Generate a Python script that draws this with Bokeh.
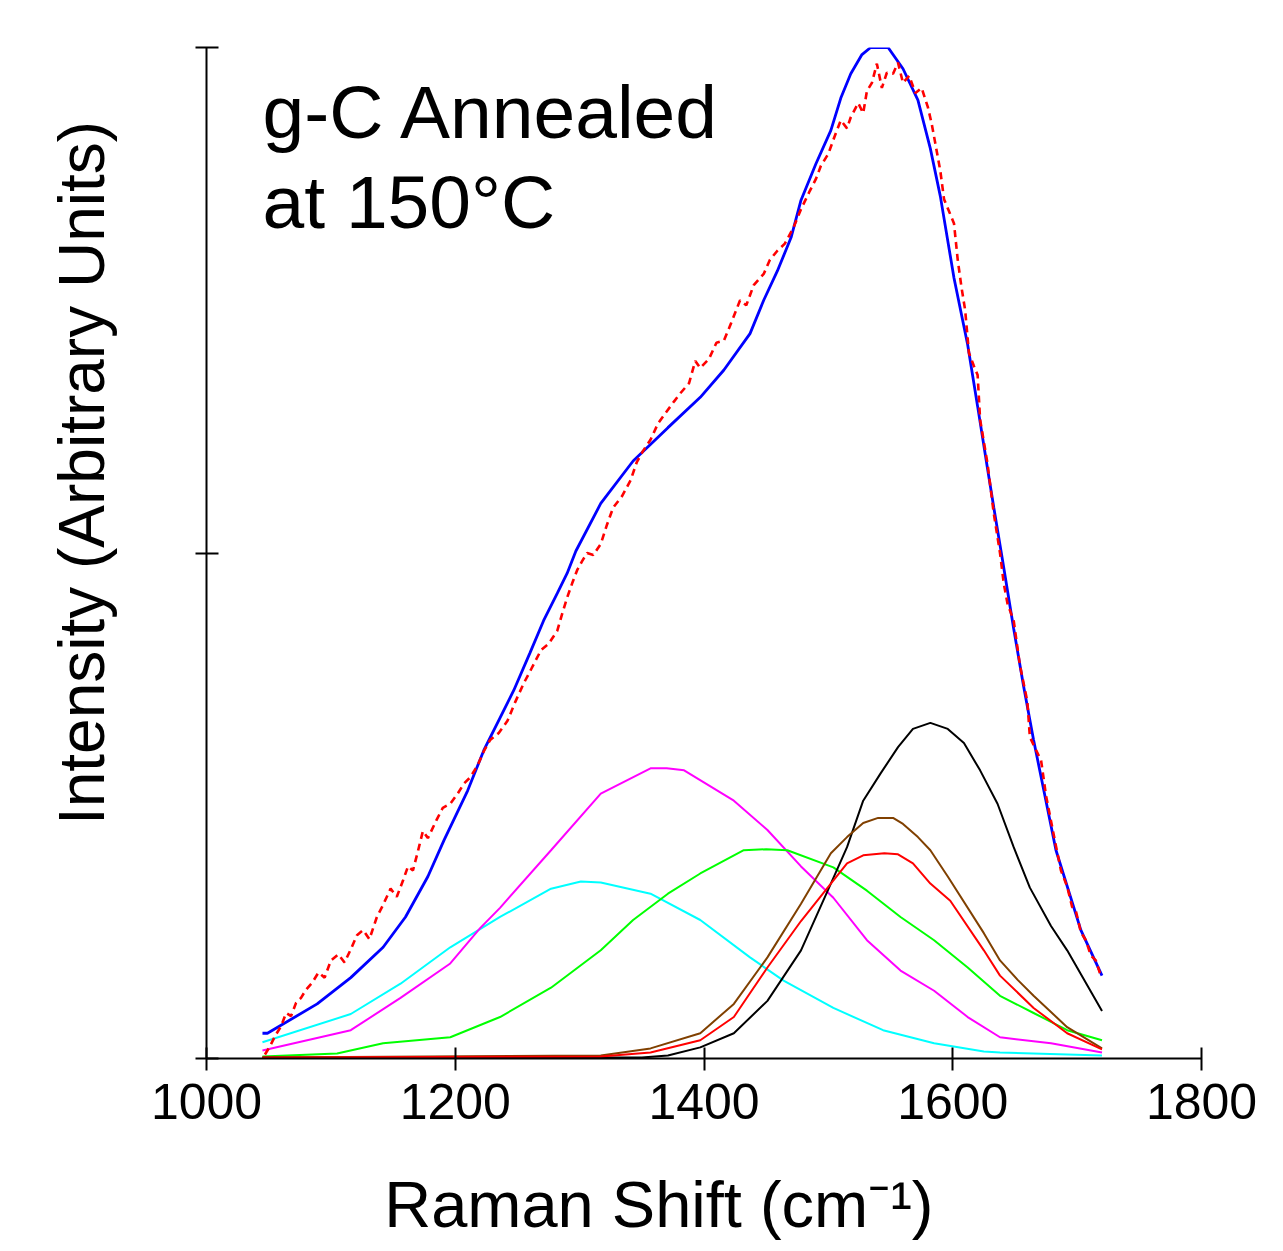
import math
from bokeh.plotting import figure
from bokeh.models import Label, FixedTicker, Range1d
from bokeh.embed import file_html
from bokeh.resources import INLINE

FONT = "Liberation Sans"

# ---------------- data ----------------
x_ticks = [1000, 1200, 1400, 1600, 1800]
y_ticks = [0, 500, 1000]

cyan_x = [1045, 1116, 1156, 1196, 1236, 1277, 1301, 1317, 1357, 1397, 1437, 1464, 1504, 1544, 1585, 1625, 1638, 1720]
cyan_y = [16, 44, 74, 110, 140, 168, 175, 174, 163, 137, 100, 77, 50, 28, 15, 7, 6, 3]

magenta_x = [1045, 1116, 1156, 1196, 1220, 1236, 1277, 1317, 1357, 1370, 1384, 1424, 1451, 1478, 1504, 1531, 1558, 1585, 1612, 1638, 1679, 1720]
magenta_y = [8, 28, 60, 94, 129, 149, 206, 262, 287, 287, 285, 255, 226, 190, 159, 117, 87, 67, 41, 21, 15, 6]

green_x = [1045, 1105, 1142, 1196, 1236, 1277, 1317, 1343, 1371, 1397, 1432, 1450, 1467, 1504, 1531, 1558, 1585, 1612, 1638, 1665, 1692, 1720]
green_y = [2, 5, 15, 21, 41, 70, 107, 137, 163, 183, 206, 207, 206, 189, 166, 140, 117, 90, 62, 45, 28, 18]

brown_x = [1045, 1317, 1357, 1397, 1424, 1451, 1478, 1502, 1515, 1528, 1540, 1552, 1560, 1572, 1582, 1596, 1625, 1638, 1652, 1665, 1692, 1720]
brown_y = [1, 3, 10, 25, 54, 100, 153, 203, 219, 233, 238, 238, 232, 219, 206, 180, 124, 97, 78, 62, 31, 10]

red_x = [1045, 1317, 1357, 1397, 1424, 1451, 1478, 1502, 1515, 1528, 1545, 1556, 1568, 1582, 1598, 1625, 1638, 1665, 1692, 1720]
red_y = [1, 2, 6, 18, 41, 90, 136, 173, 193, 201, 203, 202, 193, 173, 156, 107, 82, 50, 25, 9]

black_x = [1045, 1350, 1371, 1397, 1424, 1451, 1478, 1502, 1515, 1528, 1542, 1556, 1568, 1582, 1596, 1609, 1622, 1636, 1649, 1662, 1679, 1692, 1720]
black_y = [1, 1, 3, 11, 25, 57, 107, 173, 209, 255, 282, 308, 326, 332, 326, 312, 285, 252, 209, 169, 131, 107, 47]

fit_x = [1045, 1049, 1089, 1116, 1142, 1160, 1178, 1191, 1210, 1223, 1236, 1247, 1260, 1271, 1282, 1290, 1297, 1317, 1343, 1371,
         1397, 1416, 1437, 1448, 1459, 1470, 1478, 1490, 1502, 1510, 1518, 1527, 1534, 1548, 1560, 1572, 1582, 1590, 1601, 1612,
         1620, 1628, 1633, 1640, 1649, 1657, 1665, 1683, 1703, 1720]
fit_y = [25, 25, 54, 80, 110, 140, 180, 216, 265, 305, 337, 364, 401, 433, 460, 480, 502, 549, 591, 624,
         654, 681, 717, 750, 779, 812, 849, 885, 918, 950, 974, 993, 1000, 1000, 979, 948, 900, 853, 772, 706,
         645, 583, 545, 493, 425, 368, 315, 206, 127, 82]

meas_x = [1047, 1051, 1055, 1060, 1064, 1068, 1072, 1076, 1080, 1085, 1090, 1095, 1100, 1106, 1111, 1116, 1121, 1126, 1131, 1137,
          1142, 1148, 1153, 1158, 1162, 1166, 1170, 1174, 1178, 1185, 1190, 1196, 1202, 1207, 1212, 1218, 1223, 1228, 1235, 1242,
          1248, 1255, 1261, 1269, 1275, 1282, 1286, 1290, 1294, 1298, 1302, 1306, 1311, 1317, 1322, 1327, 1334, 1341, 1346, 1351,
          1357, 1363, 1370, 1376, 1381, 1388, 1393, 1397, 1404, 1410, 1416, 1422, 1429, 1434, 1440, 1448, 1453, 1459, 1465, 1472,
          1478, 1485, 1490, 1494, 1500, 1505, 1510, 1515, 1518, 1524, 1528, 1531, 1535, 1539, 1543, 1547, 1552, 1556, 1560, 1565,
          1570, 1575, 1580, 1583, 1586, 1590, 1593, 1597, 1601, 1604, 1607, 1610, 1613, 1617, 1620, 1622, 1625, 1628, 1633, 1638,
          1641, 1644, 1649, 1654, 1660, 1662, 1667, 1671, 1675, 1679, 1683, 1687, 1692, 1696, 1699, 1703, 1707, 1711, 1715, 1719]
meas_y = [4, 12, 22, 32, 45, 42, 55, 60, 68, 75, 85, 80, 97, 103, 95, 108, 122, 127, 118, 140,
          152, 168, 160, 176, 190, 186, 205, 225, 218, 236, 248, 252, 262, 272, 278, 290, 304, 315, 322, 334,
          352, 371, 385, 404, 410, 423, 440, 456, 470, 483, 492, 500, 498, 509, 528, 545, 556, 572, 590, 601,
          612, 628, 640, 650, 658, 668, 690, 683, 692, 708, 710, 728, 750, 745, 765, 776, 790, 799, 806, 822,
          840, 858, 870, 883, 895, 912, 928, 920, 931, 945, 935, 957, 965, 984, 960, 975, 974, 985, 965, 972,
          955, 960, 941, 925, 905, 878, 850, 838, 826, 790, 763, 740, 698, 685, 676, 632, 610, 588, 539, 500,
          470, 450, 433, 389, 353, 318, 305, 295, 260, 235, 210, 186, 170, 150, 146, 125, 117, 102, 97, 82]

title_lines = ["g-C Annealed", "at 150°C"]
x_title = "Raman Shift (cm\u207b\u00b9)"
y_title = "Intensity (Arbitrary Units)"

# ---------------- layout ----------------
FL, FR, FT, FB = 206, 1201, 47, 1058   # frame edges in picture pixels
X0, X1, Y0, Y1 = 1000, 1800, 0, 1000
W, H = 1275, 1243

def dx(px):
    return X0 + (px - FL) * (X1 - X0) / (FR - FL)

def dy(py):
    return Y0 + (FB - py) * (Y1 - Y0) / (FB - FT)

p = figure(width=W, height=H, output_backend="svg", toolbar_location=None,
           x_range=Range1d(X0, X1), y_range=Range1d(Y0, Y1),
           min_border_left=FL, min_border_right=W - FR,
           min_border_top=FT, min_border_bottom=H - FB)
p.xgrid.visible = False
p.ygrid.visible = False
p.outline_line_color = None
p.background_fill_color = "white"
p.border_fill_color = "white"

NBSP = "\u00a0"

xa = p.xaxis[0]
xa.ticker = FixedTicker(ticks=x_ticks, minor_ticks=[])
xa.major_tick_in = 11
xa.major_tick_out = 12
xa.major_tick_line_width = 2
xa.axis_line_width = 2
xa.minor_tick_line_color = None
xa.major_label_text_font = FONT
xa.major_label_text_font_size = "50px"
xa.major_label_text_color = "black"
xa.major_label_standoff = 13
# label centred on the axis; trailing no-break spaces move the visible text left
xa.axis_label = x_title + NBSP * 5
xa.axis_label_text_font = FONT
xa.axis_label_text_font_size = "65px"
xa.axis_label_text_font_style = "normal"
xa.axis_label_text_color = "black"
xa.axis_label_standoff = 46

ya = p.yaxis[0]
ya.ticker = FixedTicker(ticks=y_ticks, minor_ticks=[])
ya.major_tick_in = 12
ya.major_tick_out = 11
ya.major_tick_line_width = 2
ya.axis_line_width = 2
ya.minor_tick_line_color = None
ya.major_label_overrides = {t: "" for t in y_ticks}
# leading no-break spaces move the visible (upward-reading) text up
ya.axis_label = NBSP * 9 + y_title
ya.axis_label_text_font = FONT
ya.axis_label_text_font_size = "64px"
ya.axis_label_text_font_style = "normal"
ya.axis_label_text_color = "black"
ya.axis_label_standoff = 78

# ---------------- curves ----------------
lw = 2
p.line(cyan_x, cyan_y, line_color="#00FFFF", line_width=lw)
p.line(magenta_x, magenta_y, line_color="#FF00FF", line_width=lw)
p.line(green_x, green_y, line_color="#00FF00", line_width=lw)
p.line(black_x, black_y, line_color="#000000", line_width=lw)
p.line(brown_x, brown_y, line_color="#804000", line_width=lw)
p.line(red_x, red_y, line_color="#FF0000", line_width=lw)
p.line(fit_x, fit_y, line_color="#0000FF", line_width=2.8)
p.line(meas_x, meas_y, line_color="#FF0000", line_width=2.6, line_dash="7 5")

# ---------------- texts ----------------
p.add_layout(Label(x=dx(262), y=dy(111), text=title_lines[0], text_font=FONT,
                   text_font_size="75px", text_color="black", text_baseline="alphabetic"))
p.add_layout(Label(x=dx(262), y=dy(201), text=title_lines[1], text_font=FONT,
                   text_font_size="75px", text_color="black", text_baseline="alphabetic"))

open("out.html", "w").write(file_html(p, INLINE))
